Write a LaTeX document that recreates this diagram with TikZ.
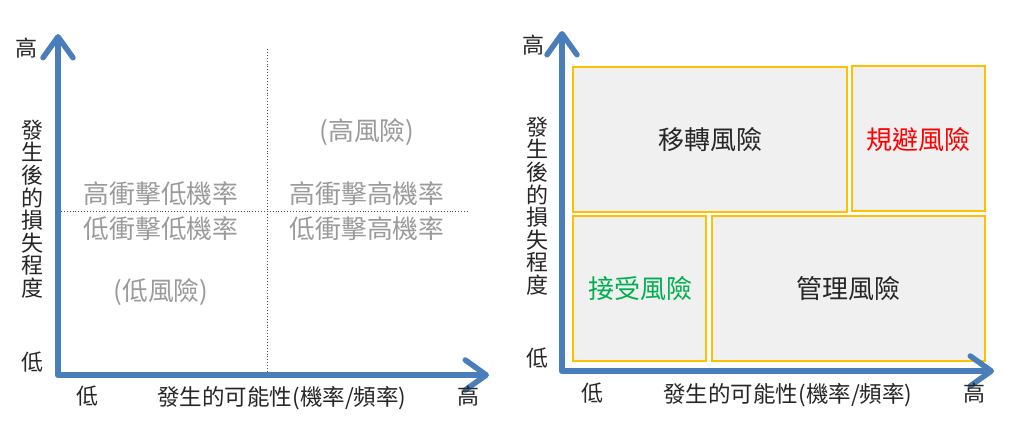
\documentclass[tikz,border=0pt]{standalone}
\usepackage{fontspec}
\setmainfont{Noto Sans CJK TC}
\usetikzlibrary{arrows.meta}
\definecolor{axisblue}{HTML}{4A7EBB}
\definecolor{boxedge}{HTML}{FFC000}
\definecolor{boxfill}{HTML}{F0F0F0}
\definecolor{quadgray}{HTML}{9A9A9A}
\definecolor{accgreen}{HTML}{00B050}
\definecolor{avoidred}{HTML}{FF0000}
\tikzset{
  axisline/.style={draw=axisblue, line width=5.5pt, line cap=round, line join=round,
    -{Straight Barb[length=21pt, width=30pt, line width=5.5pt, round]}},
  axtext/.style={font=\fontsize{22}{22.6}\selectfont, inner sep=0pt, text=black!85},
  xlabtext/.style={axtext, font=\fontsize{22.5}{24}\selectfont},
  vlabel/.style={axtext, align=center},
  quadtext/.style={font=\fontsize{25.8}{27}\selectfont, text=quadgray, inner sep=0pt},
  guide/.style={draw=black!70, line width=0.9pt, dotted},
  riskbox/.style={draw=boxedge, fill=boxfill, line width=2.8pt},
  boxtext/.style={font=\fontsize{26}{28}\selectfont, inner sep=0pt, text=black!85}
}
\begin{document}
\begin{tikzpicture}[x=1pt,y=-1pt]
\useasboundingbox (0,0) rectangle (1024,426);
% ---------- left panel ----------
\coordinate (Lo) at (58,375);
\coordinate (Ltop) at (58,34);
\coordinate (Lright) at (489,375);
\coordinate (Vt) at (267,49);
\coordinate (Vb) at (267,375);
\coordinate (Hl) at (58,211);
\coordinate (Hr) at (468,211);
\draw[guide] (Vt) -- (Vb);
\draw[guide] (Hl) -- (Hr);
\draw[axisline] (Lo) -- (Ltop);
\draw[axisline] (Lo) -- (Lright);
\node[axtext] (lhiy) at (27,48) {高};
\node[vlabel] (lylab) at (32,209) {發\\生\\後\\的\\損\\失\\程\\度};
\node[axtext] (lloy) at (32,362) {低};
\node[axtext] (llox) at (87,396) {低};
\node[xlabtext] (lxlab) at (282,398) {發生的可能性(機率/頻率)};
\node[axtext] (lhix) at (468,396) {高};
\node[quadtext] (qhr) at (367,132) {(高風險)};
\node[quadtext] (q1) at (161,194) {高衝擊低機率};
\node[quadtext] (q2) at (367,194) {高衝擊高機率};
\node[quadtext] (q3) at (161,229) {低衝擊低機率};
\node[quadtext] (q4) at (367,229) {低衝擊高機率};
\node[quadtext] (qlr) at (161,292) {(低風險)};
% ---------- right panel ----------
\coordinate (Ro) at (562,371);
\coordinate (Rtop) at (562,31);
\coordinate (Rright) at (994,371);
\draw[riskbox] (573,67) rectangle (847,212);
\draw[riskbox] (852,66) rectangle (985,211);
\draw[riskbox] (573,216) rectangle (706,361);
\draw[riskbox] (712,216) rectangle (985,361);
\draw[axisline] (Ro) -- (Rtop);
\draw[axisline] (Ro) -- (Rright);
\node[boxtext] (transfer) at (710,140) {移轉風險};
\node[boxtext, text=avoidred] (avoid) at (918,140) {規避風險};
\node[boxtext, text=accgreen] (accept) at (640,289) {接受風險};
\node[boxtext] (manage) at (848,289) {管理風險};
\node[axtext] (rhiy) at (533,45) {高};
\node[vlabel] (rylab) at (537,206) {發\\生\\後\\的\\損\\失\\程\\度};
\node[axtext] (rloy) at (537,358) {低};
\node[axtext] (rlox) at (592,393) {低};
\node[xlabtext] (rxlab) at (788,395) {發生的可能性(機率/頻率)};
\node[axtext] (rhix) at (974,393) {高};
\end{tikzpicture}
\end{document}
